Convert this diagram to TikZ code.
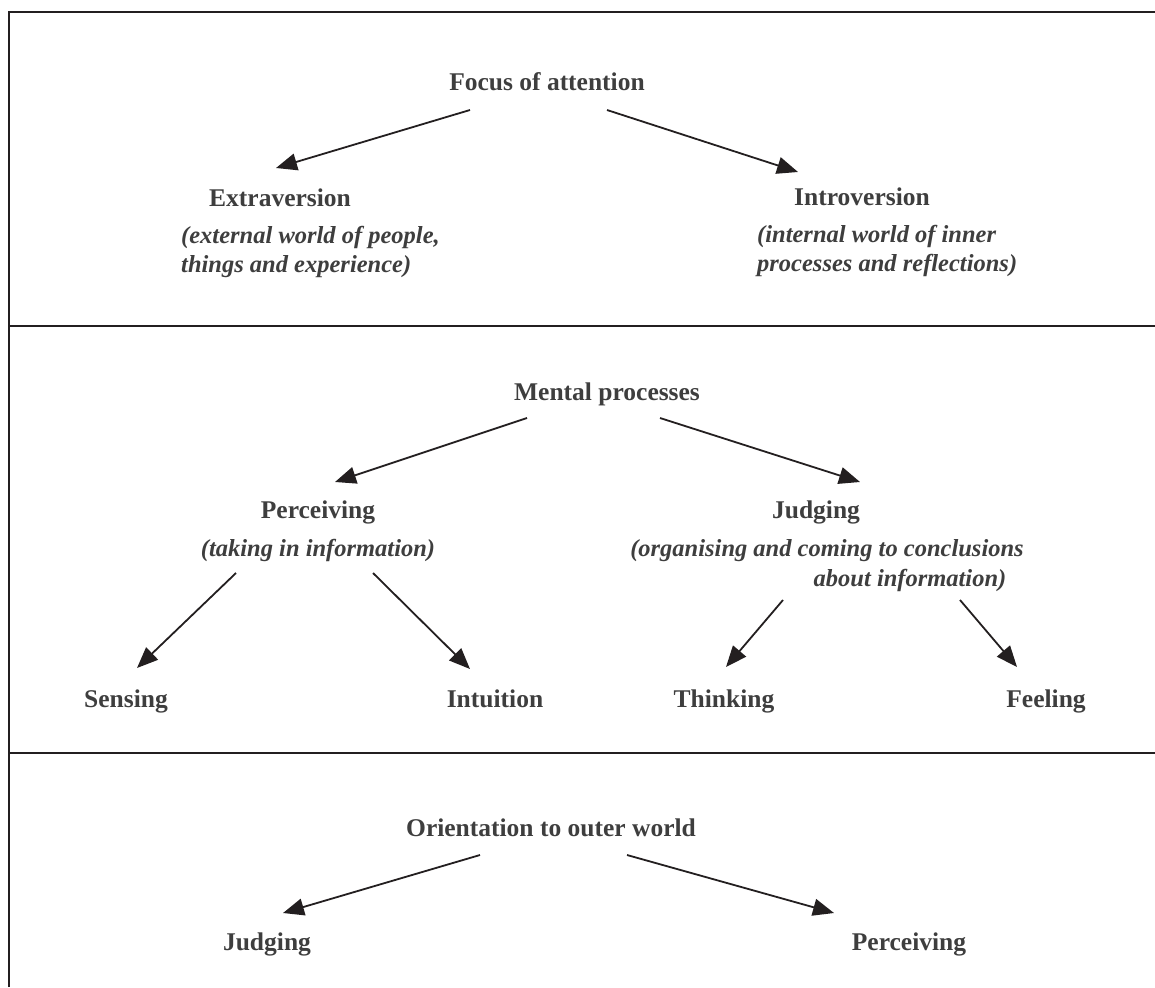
\documentclass[tikz,border=0pt]{standalone}
\usepackage{fontspec}
\setmainfont{Liberation Serif}
\usetikzlibrary{arrows.meta}
\definecolor{txt}{HTML}{3E3E3E}
\definecolor{ln}{HTML}{231F20}
\tikzset{
  head/.style={font=\fontsize{25.5}{30}\selectfont\bfseries, text=txt, inner sep=0pt, anchor=base},
  sub/.style={font=\fontsize{24.5}{29.5}\selectfont\bfseries\itshape, text=txt, inner sep=0pt, anchor=base west},
  arr/.style={draw=ln, line width=1.8pt, -{Triangle[length=21pt,width=17pt]}},
  frame/.style={draw=ln, line width=2pt}
}
\begin{document}
\begin{tikzpicture}[x=1pt,y=-1pt]
\useasboundingbox (0,0) rectangle (1155,987);
% frame
\coordinate (tl) at (9,12);
\coordinate (tr) at (1155,12);
\coordinate (bl) at (9,987);
\coordinate (d1l) at (9,326);
\coordinate (d1r) at (1155,326);
\coordinate (d2l) at (9,753);
\coordinate (d2r) at (1155,753);
\draw[frame] (bl) -- (tl) -- (tr);
\draw[frame] (d1l) -- (d1r);
\draw[frame] (d2l) -- (d2r);

% top section
\node[head] (focus) at (547,91) {Focus of attention};
\node[head] (extra) at (280,206) {Extraversion};
\node[head] (intro) at (862,205) {Introversion};
\node[sub] (extras1) at (181,243) {(external world of people,};
\node[sub] (extras2) at (181,272) {things and experience)};
\node[sub] (intros1) at (757,242) {(internal world of inner};
\node[sub] (intros2) at (757,271) {processes and reflections)};
\coordinate (fa1) at (470,110);
\coordinate (fb1) at (276,168);
\coordinate (fa2) at (607,110);
\coordinate (fb2) at (798,172);
\draw[arr] (fa1) -- (fb1);
\draw[arr] (fa2) -- (fb2);

% middle section
\node[head] (mental) at (607,400) {Mental processes};
\node[head] (perc) at (318,518) {Perceiving};
\node[head] (judg) at (816,518) {Judging};
\node[sub, anchor=base] (percs) at (318,556) {(taking in information)};
\node[sub, anchor=base] (judgs1) at (827,556) {(organising and coming to conclusions};
\node[sub, anchor=base] (judgs2) at (910,586) {about information)};
\coordinate (ma1) at (527,418);
\coordinate (mb1) at (335,482);
\coordinate (ma2) at (660,418);
\coordinate (mb2) at (860,482);
\draw[arr] (ma1) -- (mb1);
\draw[arr] (ma2) -- (mb2);
\node[head] (sens) at (126,707) {Sensing};
\node[head] (intu) at (495,707) {Intuition};
\node[head] (think) at (724,707) {Thinking};
\node[head] (feel) at (1046,707) {Feeling};
\coordinate (pa1) at (236,573);
\coordinate (pb1) at (137,668);
\coordinate (pa2) at (373,573);
\coordinate (pb2) at (470,669);
\coordinate (ja1) at (783,600);
\coordinate (jb1) at (726,667);
\coordinate (ja2) at (960,600);
\coordinate (jb2) at (1017,667);
\draw[arr] (pa1) -- (pb1);
\draw[arr] (pa2) -- (pb2);
\draw[arr] (ja1) -- (jb1);
\draw[arr] (ja2) -- (jb2);

% bottom section
\node[head] (orient) at (551,836) {Orientation to outer world};
\node[head] (judg2) at (267,950) {Judging};
\node[head] (perc2) at (909,950) {Perceiving};
\coordinate (oa1) at (480,855);
\coordinate (ob1) at (283,913);
\coordinate (oa2) at (627,855);
\coordinate (ob2) at (834,913);
\draw[arr] (oa1) -- (ob1);
\draw[arr] (oa2) -- (ob2);
\end{tikzpicture}
\end{document}
